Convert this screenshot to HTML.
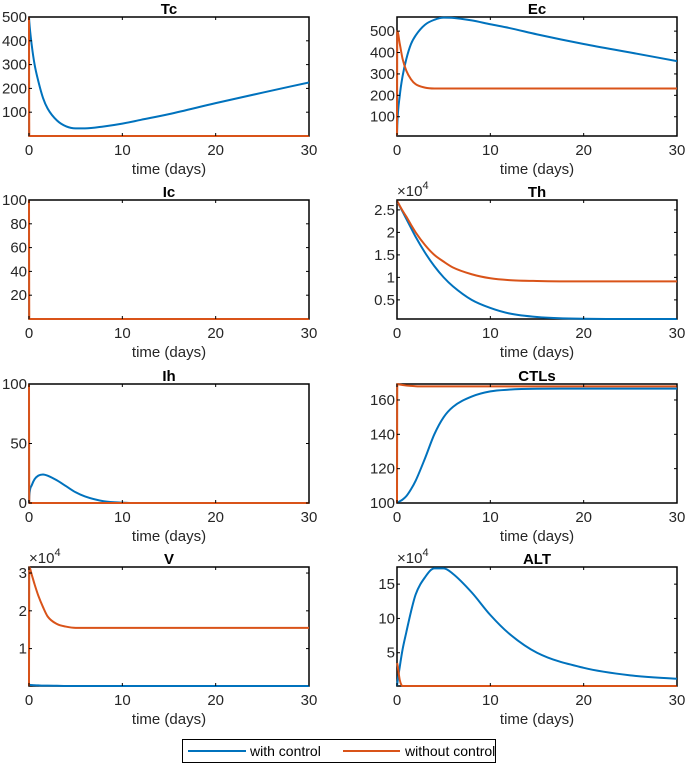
<!DOCTYPE html>
<html><head><meta charset="utf-8"><style>
body{margin:0;background:#fff;}
svg{display:block;font-family:"Liberation Sans",Arial,sans-serif;}
</style></head><body>
<svg id="fig" width="685" height="765" viewBox="0 0 685 765"></svg>
<script>
const t = [0,0.03,0.3,0.6,1,1.5,2,3,4,5,6,8,10,12,15,20,25,30];
const xTicks = [0,10,20,30];
const tcWith = [500,480,380,300,230,160,115,65,40,32,32,40,52,68,92,138,182,225];
const tcWithout = [500,0,0,0,0,0,0,0,0,0,0,0,0,0,0,0,0,0];
const ecWith = [10,60,200,290,370,440,480,530,553,563,562,550,532,515,485,440,400,360];
const ecWithout = [12,500,440,370,315,275,252,236,232,232,232,232,232,232,232,232,232,232];
const icWith = [0,0,0,0,0,0,0,0,0,0,0,0,0,0,0,0,0,0];
const icWithout = [100,0,0,0,0,0,0,0,0,0,0,0,0,0,0,0,0,0];
const thWith = [2.7,2.69,2.58,2.46,2.3,2.1,1.9,1.55,1.25,1.0,0.8,0.5,0.32,0.2,0.12,0.08,0.075,0.075];
const thWithout = [2.7,2.69,2.59,2.48,2.35,2.17,2.0,1.72,1.5,1.35,1.22,1.07,0.98,0.94,0.92,0.91,0.91,0.91];
const ihWith = [0,6,15,20,23,24,23,19,14,9,5.5,1.5,0.3,0,0,0,0,0];
const ihWithout = [100,0,0,0,0,0,0,0,0,0,0,0,0,0,0,0,0,0];
const ctlWith = [100,100.1,101,102,104,108,113,126,140,150,156,162,165,166,166.5,166.6,166.6,166.6];
const ctlWithout = [100,169.2,169,168.7,168.4,168.2,168,167.9,167.9,167.9,167.9,167.9,167.9,167.9,167.9,167.9,167.9,167.9];
const vWith = [0.04,0.04,0.035,0.03,0.025,0.02,0.02,0.015,0.01,0.01,0.01,0.01,0.01,0.01,0.01,0.01,0.01,0.01];
const vWithout = [0.01,3.15,2.95,2.7,2.4,2.1,1.85,1.65,1.58,1.55,1.55,1.55,1.55,1.55,1.55,1.55,1.55,1.55];
const altWith = [0.15,0.5,3,5.5,8,11,13.5,16,17.3,17.3,16.5,13.8,10.5,7.8,5,2.8,1.7,1.2];
const altWithout = [3.5,3.4,1,0.15,0.15,0.15,0.15,0.15,0.15,0.15,0.15,0.15,0.15,0.15,0.15,0.15,0.15,0.15];

const panels = [
 {name:'tc',title:'Tc',x:29,y:17,ylim:[0,500],yt:[100,200,300,400,500],a:tcWith,b:tcWithout,exp:false},
 {name:'ec',title:'Ec',x:397,y:17,ylim:[10,566],yt:[100,200,300,400,500],a:ecWith,b:ecWithout,exp:false},
 {name:'ic',title:'Ic',x:29,y:200,ylim:[0,100],yt:[20,40,60,80,100],a:icWith,b:icWithout,exp:false},
 {name:'th',title:'Th',x:397,y:200,ylim:[0.075,2.72],yt:[0.5,1,1.5,2,2.5],a:thWith,b:thWithout,exp:true},
 {name:'ih',title:'Ih',x:29,y:384,ylim:[0,100],yt:[0,50,100],a:ihWith,b:ihWithout,exp:false},
 {name:'ctls',title:'CTLs',x:397,y:384,ylim:[100,169.3],yt:[100,120,140,160],a:ctlWith,b:ctlWithout,exp:false},
 {name:'v',title:'V',x:29,y:567,ylim:[0.01,3.16],yt:[1,2,3],a:vWith,b:vWithout,exp:true},
 {name:'alt',title:'ALT',x:397,y:567,ylim:[0.15,17.5],yt:[5,10,15],a:altWith,b:altWithout,exp:true}
];
const W=280,H=119;
const NS='http://www.w3.org/2000/svg';
const svg=document.getElementById('fig');
function mk(tag,attrs,parent){const e=document.createElementNS(NS,tag);for(const k in attrs)e.setAttribute(k,attrs[k]);(parent||svg).appendChild(e);return e;}
function monoPath(P){
  const n=P.length;if(n<2)return '';
  const d=[],m=new Array(n);
  for(let i=0;i<n-1;i++){const dx=P[i+1][0]-P[i][0];d.push(dx?(P[i+1][1]-P[i][1])/dx:0);}
  m[0]=d[0];m[n-1]=d[n-2];
  for(let i=1;i<n-1;i++){m[i]=(d[i-1]*d[i]<=0)?0:(d[i-1]+d[i])/2;}
  for(let i=0;i<n-1;i++){
    if(d[i]===0){m[i]=0;m[i+1]=0;continue;}
    const a=m[i]/d[i],b=m[i+1]/d[i],s=a*a+b*b;
    if(s>9){const tt=3/Math.sqrt(s);m[i]=tt*a*d[i];m[i+1]=tt*b*d[i];}
  }
  let s='M'+P[0][0].toFixed(2)+','+P[0][1].toFixed(2);
  for(let i=0;i<n-1;i++){
    const dx=(P[i+1][0]-P[i][0])/3;
    s+=' C'+(P[i][0]+dx).toFixed(2)+','+(P[i][1]+m[i]*dx).toFixed(2)+' '+(P[i+1][0]-dx).toFixed(2)+','+(P[i+1][1]-m[i+1]*dx).toFixed(2)+' '+P[i+1][0].toFixed(2)+','+P[i+1][1].toFixed(2);
  }
  return s;
}
panels.forEach(p=>{
  const g=mk('g',{});
  
  
  const sx=v=>p.x+v/30*W;
  const sy=v=>p.y+H-(v-p.ylim[0])/(p.ylim[1]-p.ylim[0])*H;
  const box=mk('rect',{x:p.x,y:p.y,width:W,height:H,fill:'none',stroke:'#000','stroke-width':1.5},g);
  
  
  const clipId='c-'+p.name;
  const cp=mk('clipPath',{id:clipId},g);mk('rect',{x:p.x-1.5,y:p.y-1,width:W+1.5,height:H+2.5},cp);
  [[p.a,'#0072BD','with-control-line'],[p.b,'#D95319','without-control-line']].forEach(([arr,col,nm])=>{
    const pts=arr.map((v,i)=>[sx(t[i]),sy(v)]);
    const pl=mk('path',{d:monoPath(pts),fill:'none',stroke:col,'stroke-width':2,'clip-path':'url(#'+clipId+')','stroke-linejoin':'round'},g);
    
    
  });
  xTicks.forEach(v=>{
    const X=sx(v);
    mk('line',{x1:X,x2:X,y1:p.y+H,y2:p.y+H-3,stroke:'#000'},g);
    mk('line',{x1:X,x2:X,y1:p.y,y2:p.y+3,stroke:'#000'},g);
    const tx=mk('text',{x:X,y:p.y+H+19,'font-size':15,'text-anchor':'middle',fill:'#262626'},g);
    tx.textContent=v;
    
    
  });
  p.yt.forEach(v=>{
    const Y=sy(v);
    mk('line',{x1:p.x,x2:p.x+3,y1:Y,y2:Y,stroke:'#000'},g);
    mk('line',{x1:p.x+W,x2:p.x+W-3,y1:Y,y2:Y,stroke:'#000'},g);
    const tx=mk('text',{x:p.x-2,y:Y+5,'font-size':15,'text-anchor':'end',fill:'#262626'},g);
    tx.textContent=v;
    
    
  });
  const ti=mk('text',{x:p.x+W/2,y:p.y-3,'font-size':15,'font-weight':'bold','text-anchor':'middle',fill:'#000'},g);
  ti.textContent=p.title;
  
  
  const xl=mk('text',{x:p.x+W/2,y:p.y+H+38,'font-size':15,'text-anchor':'middle',fill:'#262626'},g);
  xl.textContent='time (days)';
  
  
  if(p.exp){
    const ex=mk('text',{x:p.x,y:p.y-4,'font-size':15,fill:'#262626'},g);
    ex.innerHTML='×10<tspan dy="-7" font-size="11">4</tspan>';
    
    
  }
});
</script>
<svg style="position:absolute;left:0;top:0" width="685" height="765">
<g font-family="Liberation Sans, Arial, sans-serif" font-size="14">
<rect x="182.5" y="739.5" width="313" height="23" fill="#fff" stroke="#000"/>
<g>
<line x1="188" x2="246" y1="751" y2="751" stroke="#0072BD" stroke-width="2"/>
<text x="250" y="756" fill="#000">with control</text></g>
<g>
<line x1="343" x2="400" y1="751" y2="751" stroke="#D95319" stroke-width="2"/>
<text x="405" y="756" fill="#000">without control</text></g>
</g></svg>
</body></html>
